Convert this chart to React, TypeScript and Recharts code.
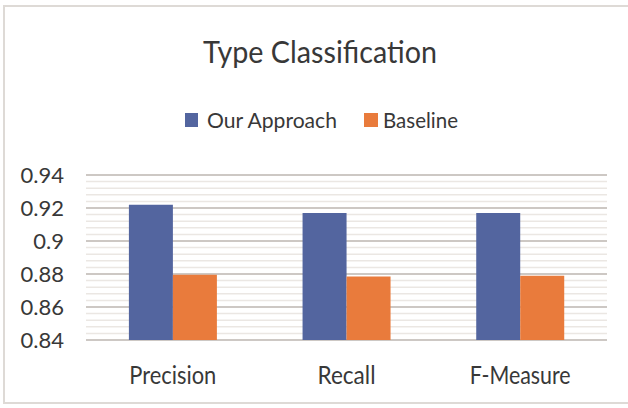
import React from "react";
import { BarChart, Bar, XAxis, YAxis, CartesianGrid } from "recharts";

const categories = ["Precision", "Recall", "F-Measure"];
const ourApproach = [0.922, 0.917, 0.917];
const baseline = [0.8795, 0.8785, 0.879];
const yTicks = [0.84, 0.86, 0.88, 0.9, 0.92, 0.94];
const seriesNames = ["Our Approach", "Baseline"];

const BLUE = "#53659f";
const ORANGE = "#e97b3c";
const TEXT = "#383838";
const FONT = "Lato, 'Open Sans', sans-serif";

const data = categories.map((c, i) => ({
  name: c,
  our: ourApproach[i],
  base: baseline[i],
}));

const minorTicks: number[] = [];
for (let i = 0; i < yTicks.length - 1; i++) {
  for (let k = 1; k < 5; k++) {
    minorTicks.push(+(yTicks[i] + (k * (yTicks[i + 1] - yTicks[i])) / 5).toFixed(4));
  }
}

const xLabelWidths: Record<string, number> = {
  Precision: 87,
  Recall: 58,
  "F-Measure": 101,
};

const XTick = (props: any) => {
  const { x, y, payload } = props;
  const label = payload.value;
  return (
    <text
      x={x}
      y={y + 36}
      textAnchor="middle"
      fontFamily={FONT}
      fontSize={25}
      fill={TEXT}
      textLength={xLabelWidths[label]}
      lengthAdjust="spacingAndGlyphs"
    >
      {label}
    </text>
  );
};

const YTick = (props: any) => {
  const { x, y, payload } = props;
  const v = Number(payload.value);
  const label = String(Number(v.toFixed(2)));
  return (
    <text
      x={x - 14}
      y={y + 8}
      textAnchor="end"
      fontFamily={FONT}
      fontSize={22}
      fill={TEXT}
    >
      {label}
    </text>
  );
};

export default function App() {
  return (
    <div
      style={{
        position: "relative",
        width: 628,
        height: 408,
        overflow: "hidden",
        background: "#ffffff",
      }}
    >
      <style>{`body{margin:0}`}</style>
      <div
        style={{
          position: "absolute",
          left: 3,
          top: 5,
          width: 660,
          height: 399,
          border: "2px solid #dedad6",
          boxSizing: "border-box",
        }}
      />
      <svg
        width={628}
        height={150}
        style={{ position: "absolute", left: 0, top: 0 }}
      >
        <text
          x={320}
          y={63}
          textAnchor="middle"
          fontFamily={FONT}
          fontSize={31}
          fill={TEXT}
          textLength={234}
          lengthAdjust="spacingAndGlyphs"
        >
          Type Classification
        </text>
        <rect x={185} y={113} width={13} height={14} fill={BLUE} />
        <text
          x={207}
          y={128}
          fontFamily={FONT}
          fontSize={22}
          fill={TEXT}
          textLength={130}
          lengthAdjust="spacingAndGlyphs"
        >
          {seriesNames[0]}
        </text>
        <rect x={364} y={113} width={14} height={14} fill={ORANGE} />
        <text
          x={383}
          y={128}
          fontFamily={FONT}
          fontSize={22}
          fill={TEXT}
          textLength={75}
          lengthAdjust="spacingAndGlyphs"
        >
          {seriesNames[1]}
        </text>
      </svg>
      <div style={{ position: "absolute", left: 0, top: 0 }}>
        <BarChart
          width={628}
          height={408}
          data={data}
          margin={{ top: 175, right: 21, bottom: 0, left: 8 }}
          barCategoryGap="24.7%"
          barGap={0}
        >
          <CartesianGrid
            vertical={false}
            horizontalValues={minorTicks}
            stroke="#ebe7e3"
            strokeWidth={1.5}
          />
          <CartesianGrid
            vertical={false}
            horizontalValues={yTicks}
            stroke="#cdc8c4"
            strokeWidth={1.8}
          />
          <XAxis
            dataKey="name"
            height={68}
            axisLine={false}
            tickLine={false}
            tick={<XTick />}
            interval={0}
          />
          <YAxis
            width={78}
            domain={[0.84, 0.94]}
            ticks={yTicks}
            allowDataOverflow
            axisLine={false}
            tickLine={false}
            tick={<YTick />}
            interval={0}
          />
          <Bar dataKey="our" name={seriesNames[0]} fill={BLUE} isAnimationActive={false} />
          <Bar dataKey="base" name={seriesNames[1]} fill={ORANGE} isAnimationActive={false} />
        </BarChart>
      </div>
    </div>
  );
}
